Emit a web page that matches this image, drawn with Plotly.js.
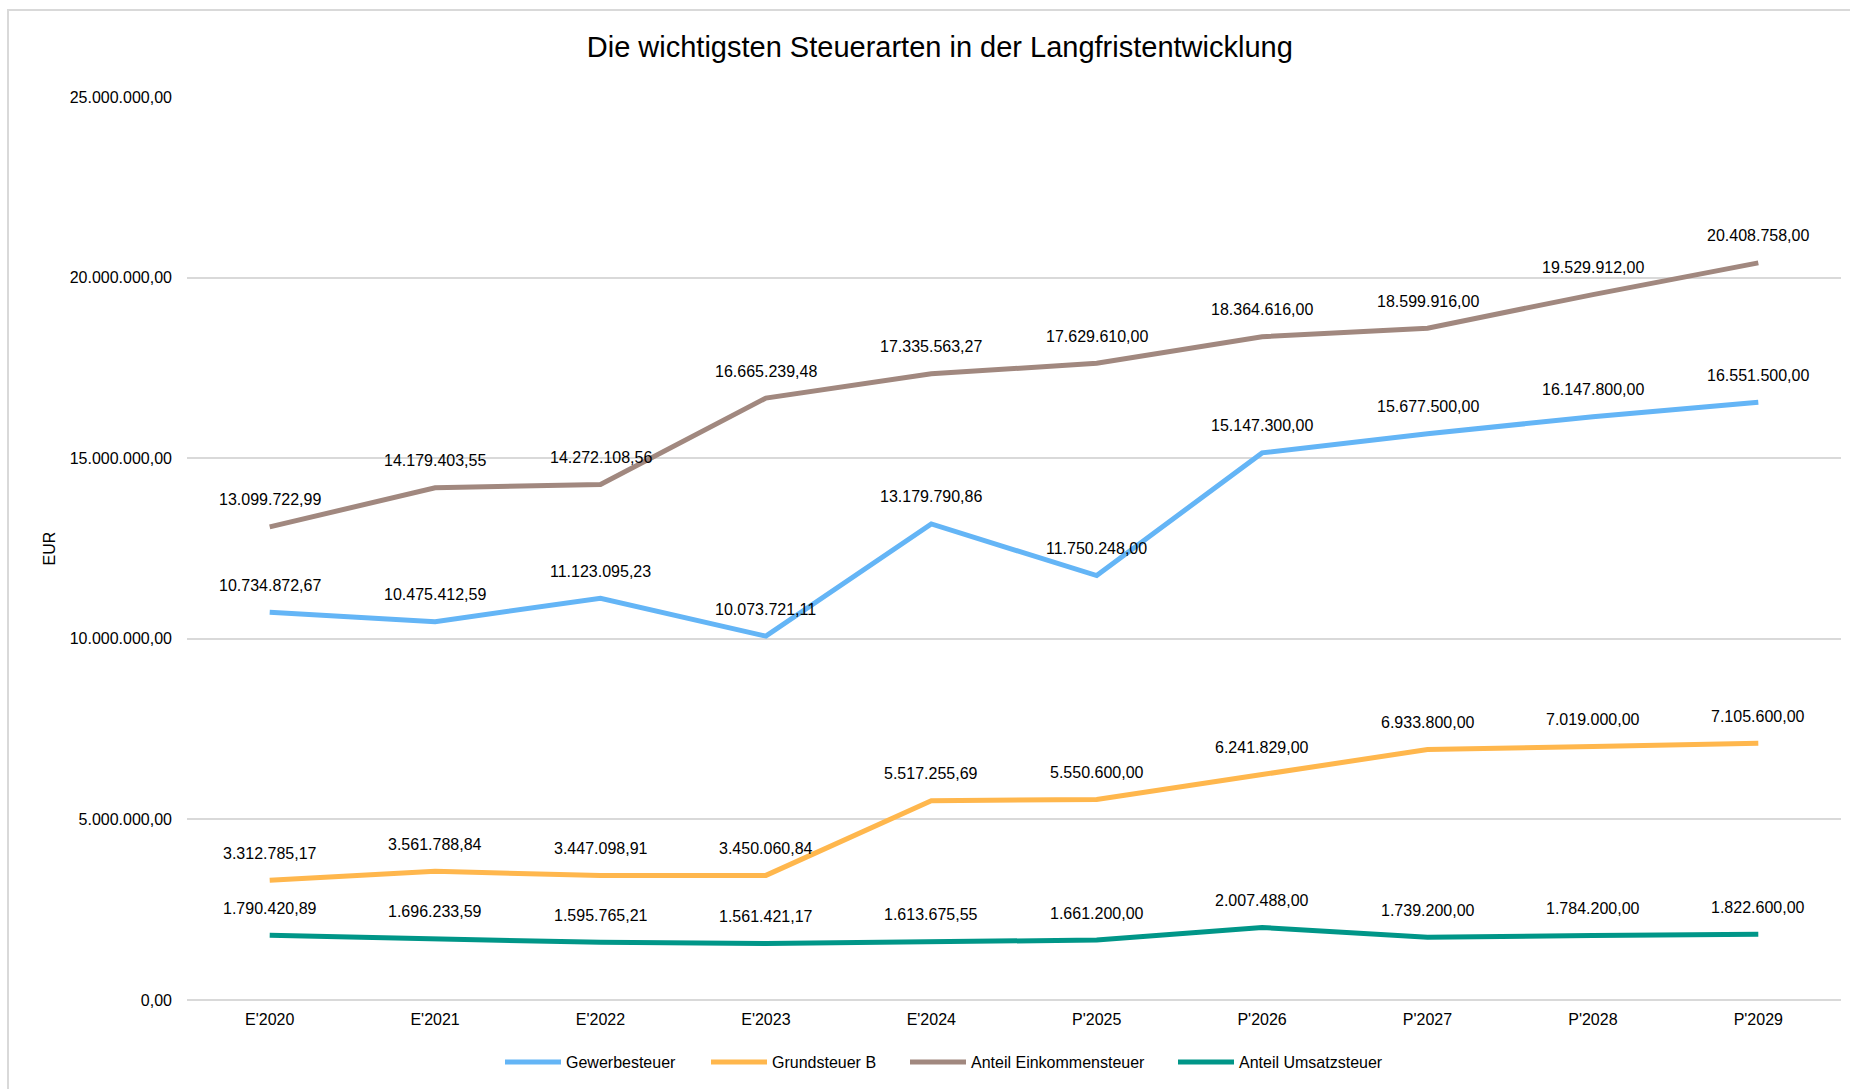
<!DOCTYPE html>
<html>
<head>
<meta charset="utf-8">
<script src="https://cdn.plot.ly/plotly-3.0.1.min.js"></script>
<style>
html,body{margin:0;padding:0;background:#fff;}
#chart{width:1850px;height:1089px;}
</style>
</head>
<body>
<div id="chart"></div>
<script>
const categories = ["E'2020","E'2021","E'2022","E'2023","E'2024","P'2025","P'2026","P'2027","P'2028","P'2029"];
const gewerbesteuer = [10734872.67, 10475412.59, 11123095.23, 10073721.11, 13179790.86, 11750248.00, 15147300.00, 15677500.00, 16147800.00, 16551500.00];
const grundsteuerB = [3312785.17, 3561788.84, 3447098.91, 3450060.84, 5517255.69, 5550600.00, 6241829.00, 6933800.00, 7019000.00, 7105600.00];
const einkommensteuer = [13099722.99, 14179403.55, 14272108.56, 16665239.48, 17335563.27, 17629610.00, 18364616.00, 18599916.00, 19529912.00, 20408758.00];
const umsatzsteuer = [1790420.89, 1696233.59, 1595765.21, 1561421.17, 1613675.55, 1661200.00, 2007488.00, 1739200.00, 1784200.00, 1822600.00];
const seriesNames = ["Gewerbesteuer","Grundsteuer B","Anteil Einkommensteuer","Anteil Umsatzsteuer"];
const yTicks = [0, 5000000, 10000000, 15000000, 20000000, 25000000];

const colors = ["#64B5F6","#FFB74D","#A1887F","#009688"];
const FONT = "Liberation Sans, Arial, sans-serif";
const legendLeft = [500, 706, 905, 1173];

function fmt(v){
  const neg = v < 0;
  let s = Math.abs(v).toFixed(2);
  let [ip, dp] = s.split(".");
  ip = ip.replace(/\B(?=(\d{3})+(?!\d))/g, ".");
  return (neg?"-":"") + ip + "," + dp;
}

const allSeries = [gewerbesteuer, grundsteuerB, einkommensteuer, umsatzsteuer];
const legendIds = ["legend","legend2","legend3","legend4"];
const traces = allSeries.map((vals, i) => ({
  type: "scatter",
  mode: "lines",
  name: seriesNames[i],
  x: categories,
  y: vals,
  line: {color: colors[i], width: 5},
  legend: legendIds[i],
  hoverinfo: "x+y+name"
}));

const annotations = [];
allSeries.forEach(vals => {
  vals.forEach((v, j) => {
    annotations.push({
      x: categories[j], y: v, xref: "x", yref: "y",
      text: fmt(v), showarrow: false, yshift: 27,
      font: {family: FONT, size: 16, color: "#000"}
    });
  });
});

const layout = {
  width: 1850, height: 1089,
  paper_bgcolor: "#fff", plot_bgcolor: "#fff",
  separators: ",.",
  font: {family: FONT, size: 16, color: "#000"},
  margin: {l: 187, r: 9, t: 97, b: 89, pad: 0},
  title: {text: "Die wichtigsten Steuerarten in der Langfristentwicklung",
          font: {family: FONT, size: 29, color: "#000"},
          x: 0.508, xanchor: "center", y: 1 - 47/1089, yanchor: "middle", xref: "container", yref: "container"},
  xaxis: {
    type: "category", categoryorder: "array", categoryarray: categories,
    range: [-0.5, categories.length - 0.5],
    showgrid: false, showline: false, zeroline: false, ticks: "",
    tickfont: {family: FONT, size: 16, color: "#000"}, ticklabelstandoff: 8
  },
  yaxis: {
    range: [0, 25000000], tickvals: yTicks,
    ticktext: yTicks.map(fmt),
    showgrid: true, gridcolor: "#d9d9d9", gridwidth: 1.5,
    zeroline: true, zerolinecolor: "#d9d9d9", zerolinewidth: 1.5,
    showline: false, ticks: "",
    tickfont: {family: FONT, size: 16, color: "#000"}, ticklabelstandoff: 14,
    title: {text: "EUR", font: {family: FONT, size: 16, color: "#000"}, standoff: 10}
  },
  showlegend: true,
  annotations: annotations,
  shapes: [{type: "rect", xref: "paper", yref: "paper",
            x0: (8 - 187)/(1850 - 187 - 9), x1: 1.1,
            y0: -0.2, y1: 1 + (97 - 10)/(1089 - 97 - 89),
            line: {color: "#d9d9d9", width: 2}, fillcolor: "rgba(0,0,0,0)", layer: "below"}]
};

legendIds.forEach((id, i) => {
  layout[id] = {orientation: "h", xref: "container", yref: "container",
    x: legendLeft[i]/1850, xanchor: "left",
    y: 1 - 1062/1089, yanchor: "middle",
    font: {family: FONT, size: 16, color: "#000"},
    itemwidth: 56, bgcolor: "rgba(0,0,0,0)"};
});

Plotly.newPlot("chart", traces, layout, {displayModeBar: false, responsive: false});
</script>
</body>
</html>
